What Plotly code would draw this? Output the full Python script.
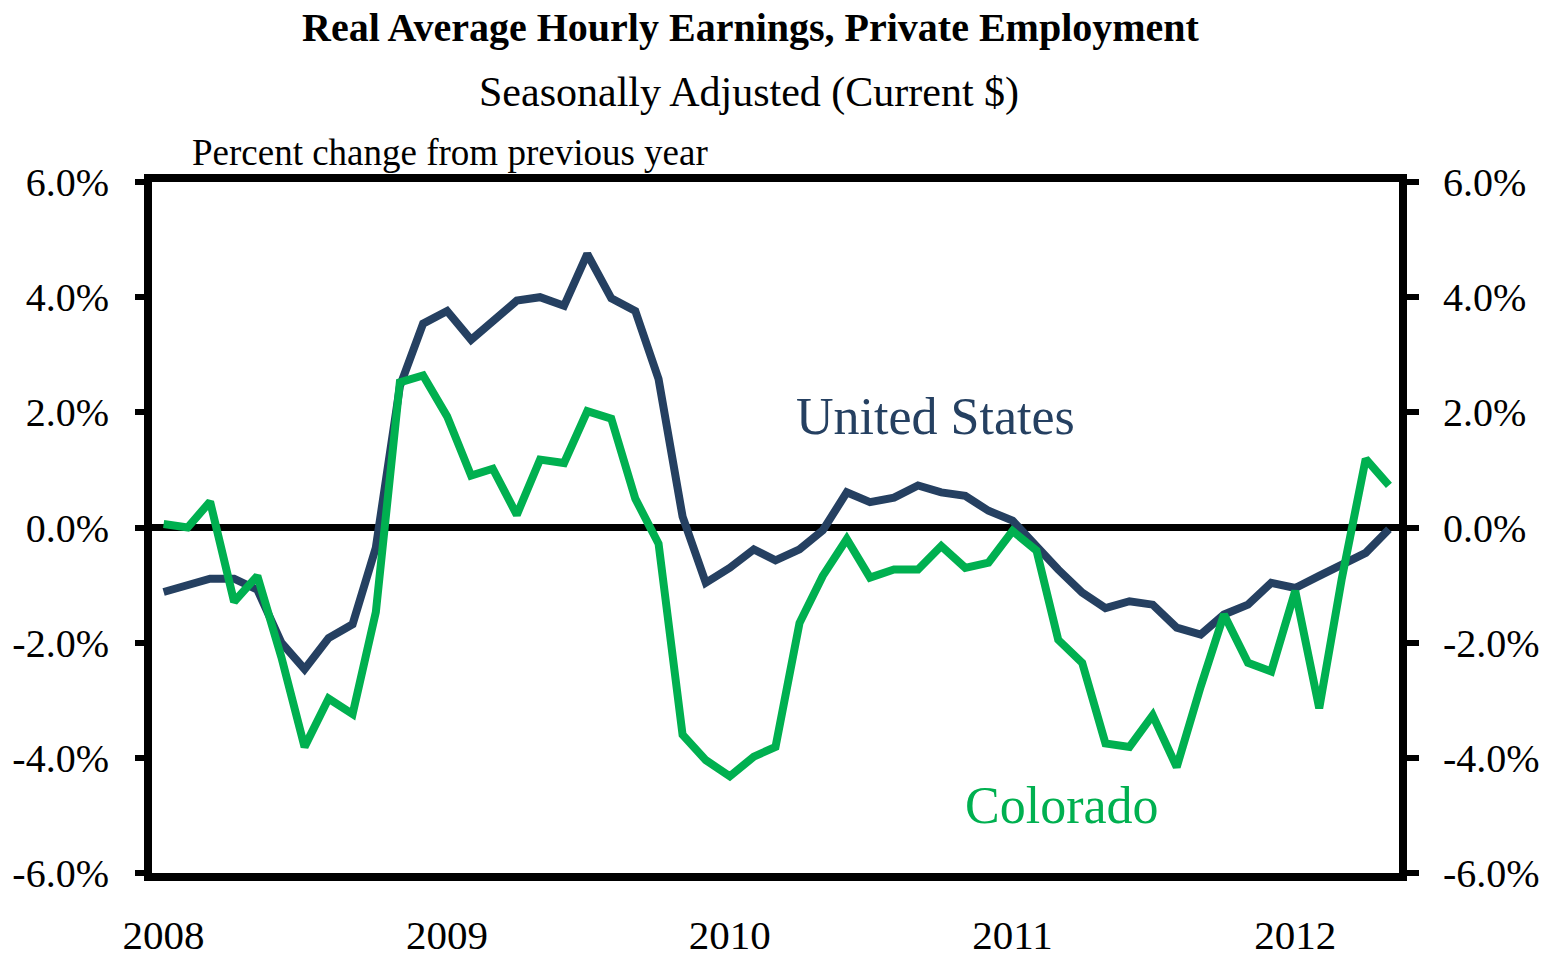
import plotly.graph_objects as go
import pandas as pd

months = pd.date_range("2008-01-01", "2012-05-01", freq="MS").strftime("%Y-%m-%d").tolist()

us = [
    -1.12, -1.00, -0.89, -0.89, -1.08, -2.00, -2.46, -1.92, -1.68, -0.35, 2.45, 3.54,
    3.76, 3.26, 3.60, 3.94, 4.00, 3.85, 4.75, 3.98, 3.76, 2.58, 0.19, -0.96,
    -0.70, -0.38, -0.57, -0.38, -0.05, 0.61, 0.44, 0.52, 0.73, 0.61, 0.55, 0.29,
    0.12, -0.35, -0.73, -1.13, -1.40, -1.28, -1.34, -1.74, -1.86, -1.51, -1.34, -0.96,
    -1.05, -0.84, -0.64, -0.44, -0.03,
]
colorado = [
    0.06, 0.00, 0.45, -1.29, -0.84, -2.25, -3.81, -2.97, -3.24, -1.47, 2.52, 2.64,
    1.93, 0.90, 1.02, 0.22, 1.18, 1.12, 2.02, 1.89, 0.50, -0.28, -3.60, -4.04,
    -4.32, -3.98, -3.81, -1.66, -0.84, -0.20, -0.87, -0.73, -0.73, -0.32, -0.70, -0.61,
    -0.06, -0.40, -1.95, -2.35, -3.75, -3.81, -3.26, -4.16, -2.76, -1.51, -2.35, -2.50,
    -1.10, -3.14, -0.90, 1.19, 0.73,
]
y_ticks = [-6, -4, -2, 0, 2, 4, 6]
y_ticktext = ["-6.0%", "-4.0%", "-2.0%", "0.0%", "2.0%", "4.0%", "6.0%"]
x_ticks = ["2008-01-01", "2009-01-01", "2010-01-01", "2011-01-01", "2012-01-01"]
x_ticktext = ["2008", "2009", "2010", "2011", "2012"]

NAVY = "#254061"
GREEN = "#00B050"
FONT = "Liberation Serif"

fig = go.Figure()
fig.add_trace(go.Scatter(x=months, y=us, mode="lines", name="United States",
                         line=dict(color=NAVY, width=8), yaxis="y"))
fig.add_trace(go.Scatter(x=months, y=colorado, mode="lines", name="Colorado",
                         line=dict(color=GREEN, width=8), yaxis="y2"))

fig.update_layout(
    width=1549, height=957,
    autosize=False,
    margin=dict(l=152, r=150, t=182, b=84, autoexpand=False),
    paper_bgcolor="white", plot_bgcolor="white",
    showlegend=False,
    font=dict(family=FONT, color="black", size=40),
    xaxis=dict(
        range=["2007-12-17", "2012-05-14"],
        tickvals=x_ticks, ticktext=x_ticktext,
        showgrid=False, zeroline=False, automargin=False,
        showline=True, linewidth=8, linecolor="black", mirror=True,
        ticks="", ticklabelstandoff=19,
        tickfont=dict(family=FONT, size=41),
    ),
    yaxis=dict(
        range=[-6, 6], tickvals=y_ticks, ticktext=y_ticktext,
        showgrid=False, zeroline=True, zerolinecolor="black", zerolinewidth=7,
        showline=True, linewidth=8, linecolor="black", automargin=False,
        ticks="outside", ticklen=9, tickwidth=6, tickcolor="black",
        ticklabelstandoff=18,
        tickfont=dict(family=FONT, size=40),
    ),
    yaxis2=dict(
        range=[-6, 6], tickvals=y_ticks, ticktext=y_ticktext,
        overlaying="y", side="right", automargin=False,
        showgrid=False, zeroline=False,
        showline=True, linewidth=8, linecolor="black",
        ticks="outside", ticklen=12, tickwidth=6, tickcolor="black",
        ticklabelstandoff=16,
        tickfont=dict(family=FONT, size=40),
    ),
    annotations=[
        dict(text="<b>Real Average Hourly Earnings, Private Employment</b>",
             xref="paper", yref="paper", x=0.480, y=1.224, xanchor="center", yanchor="middle",
             showarrow=False, font=dict(family=FONT, size=40)),
        dict(text="Seasonally Adjusted (Current $)",
             xref="paper", yref="paper", x=0.479, y=1.130, xanchor="center", yanchor="middle",
             showarrow=False, font=dict(family=FONT, size=42)),
        dict(text="Percent change from previous year",
             xref="paper", yref="paper", x=0.239, y=1.042, xanchor="center", yanchor="middle",
             showarrow=False, font=dict(family=FONT, size=37)),
        dict(text="United States",
             xref="paper", yref="paper", x=0.628, y=0.66, xanchor="center", yanchor="middle",
             showarrow=False, font=dict(family=FONT, size=52, color=NAVY)),
        dict(text="Colorado",
             xref="paper", yref="paper", x=0.730, y=0.097, xanchor="center", yanchor="middle",
             showarrow=False, font=dict(family=FONT, size=52, color=GREEN)),
    ],
)

fig.write_html("out.html", config={"displayModeBar": False},
               post_script="document.body.style.margin='0';")
